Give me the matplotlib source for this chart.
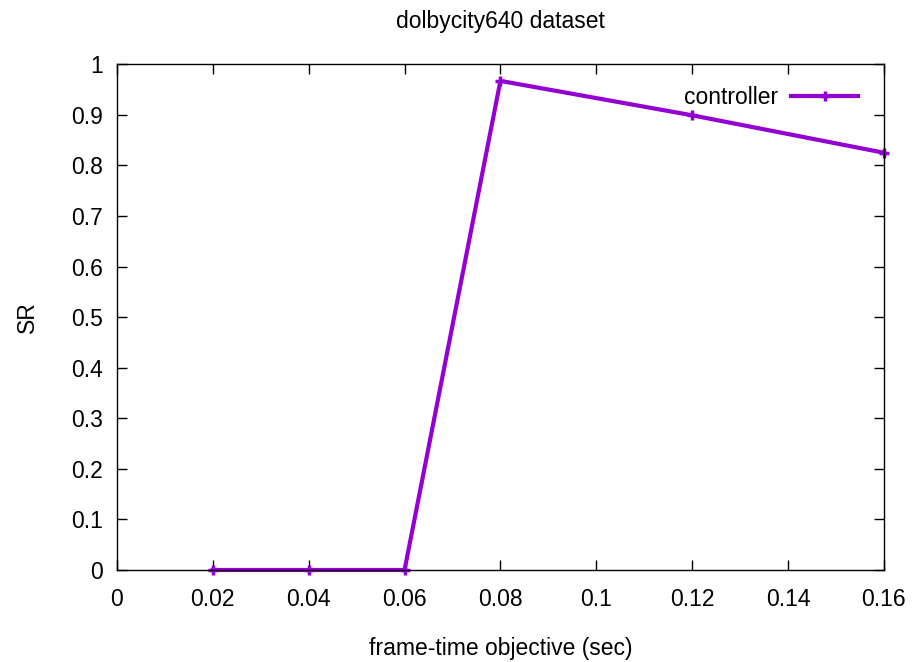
import numpy as np
import matplotlib.pyplot as plt

# frame-time objective vs SR
frame_time = [0.02, 0.04, 0.06, 0.08, 0.12, 0.16]
sr = [0.0, 0.0, 0.0, 0.967, 0.899, 0.825]

xticks = [0, 0.02, 0.04, 0.06, 0.08, 0.1, 0.12, 0.14, 0.16]
xtick_labels = ["0", "0.02", "0.04", "0.06", "0.08", "0.1", "0.12", "0.14", "0.16"]
yticks = [0, 0.1, 0.2, 0.3, 0.4, 0.5, 0.6, 0.7, 0.8, 0.9, 1]
ytick_labels = ["0", "0.1", "0.2", "0.3", "0.4", "0.5", "0.6", "0.7", "0.8", "0.9", "1"]

plt.rcParams['font.family'] = ['Liberation Sans', 'DejaVu Sans']
fs = 16.5

fig = plt.figure(figsize=(9.14, 6.62), dpi=100)
ax = fig.add_axes([0.128, 0.139, 0.839, 0.764])

ax.plot(frame_time, sr, color="#9400D3", linewidth=3, marker="+",
        markersize=7, markeredgewidth=2.5, label="controller", clip_on=False)

ax.set_xlim(0, 0.16)
ax.set_ylim(0, 1)
ax.set_xticks(xticks)
ax.set_xticklabels(xtick_labels)
ax.set_yticks(yticks)
ax.set_yticklabels(ytick_labels)
ax.tick_params(direction="in", top=True, right=True, length=7, width=1,
               labelsize=fs, colors="black")
ax.tick_params(axis="x", pad=13)
ax.tick_params(axis="y", pad=10)
for s in ax.spines.values():
    s.set_linewidth(1)

ax.set_xlabel("frame-time objective (sec)", fontsize=fs, labelpad=19)
ax.set_ylabel("SR", fontsize=fs, labelpad=23)
ax.set_title("dolbycity640 dataset", fontsize=fs, pad=26)

leg = ax.legend(loc="upper right", bbox_to_anchor=(1.005, 1.016),
                frameon=False, fontsize=fs, markerfirst=False,
                handlelength=2.9, handletextpad=0.6, borderaxespad=0.9)

fig.savefig("out.png", dpi=100)
